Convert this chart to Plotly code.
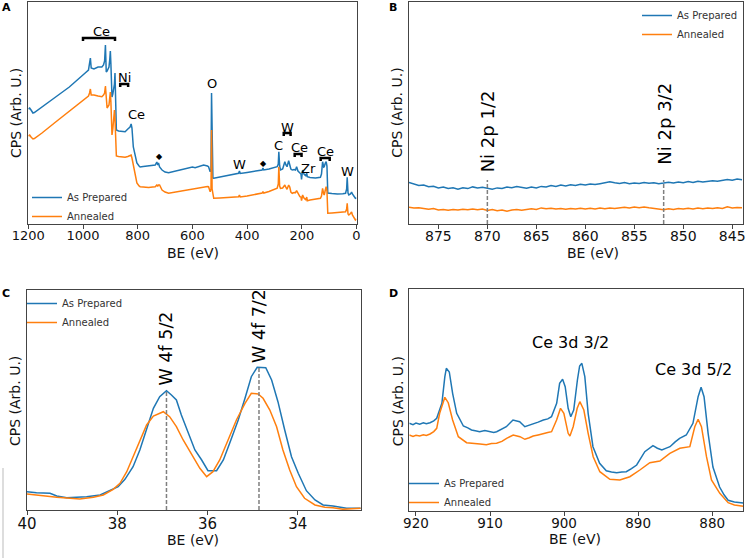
import plotly.graph_objects as go

# ---------------- Panel A: survey ----------------
a_be = [1200, 1195, 1190, 1183, 1178, 1170, 1150, 1100, 1050, 1010, 992, 980, 976, 973, 970, 960, 945, 931,
        925, 921, 918, 915, 912, 905, 902, 900, 898, 894, 891, 888, 885, 883, 881, 878, 870, 860, 846, 836,
        828, 824, 821, 816, 810, 803, 795, 791, 780, 760, 745, 736, 730, 727, 724, 720, 711, 700, 687, 660,
        630, 600, 590, 570, 559, 545, 541, 535, 532, 530, 528, 525, 522, 500, 470, 440, 431, 428, 425, 400,
        370, 350, 345, 342, 339, 320, 300, 290, 286, 284, 281, 278, 270, 262, 258, 254, 248, 244, 240, 235,
        228, 223, 219, 214, 207, 203, 201, 199, 197, 192, 185, 182, 180, 170, 150, 132, 128, 124, 120, 118,
        114, 111, 108, 105, 90, 70, 50, 40, 36, 34, 31, 28, 22, 18, 15, 8, 4, 0]
a_prepared = [115, 116, 114, 111, 111.5, 113, 117, 127, 137, 146, 151, 154, 160, 166, 156, 155, 157, 157,
              159, 163, 179, 152, 153, 157, 165, 173, 160, 127, 130, 135, 140, 151, 130, 94, 93, 92.5, 92.3, 95,
              97, 100, 96, 77, 68, 61, 58, 57, 57.5, 58, 58.5, 59, 62, 59, 61, 57, 54, 52, 51.3, 53,
              55, 57, 56.3, 58, 59, 58, 57.3, 52.3, 55, 131, 60, 46, 45.7, 47, 48.5, 50, 50.7, 53, 50.5, 51.5,
              52.5, 53.5, 54, 56, 54, 55, 56.5, 57.3, 60, 72.3, 58, 54, 55, 62.3, 59, 57.3, 63.3, 60, 55, 54,
              54.5, 54, 57.3, 53, 50.7, 50, 44.7, 49, 54, 50, 48, 51, 47.3, 46.5, 46, 46.7, 50, 62.3, 57, 57.3,
              61, 62.3, 58, 31, 30.5, 30, 30.3, 30.7, 35, 46.7, 31, 29, 30, 32, 30, 27, 25.7, 26]
a_annealed = [88, 89, 87, 85, 85.5, 87, 91, 102, 113, 122, 125.7, 128, 131, 135, 129, 129, 128, 127.3,
              129, 131, 138, 118, 116, 119, 126, 132, 122, 89, 95, 104, 114, 105, 80, 68, 67.5, 67, 66.7, 67.5,
              68, 69, 66, 58, 50, 41, 38, 37.3, 37, 36.5, 37, 37.3, 39, 37.5, 39, 39, 34, 32, 30.7, 32,
              33.5, 35, 35.7, 36.5, 37.3, 37.5, 37.3, 32.3, 35, 94, 35, 26.5, 25.7, 26, 26.8, 27.3, 27.3, 29, 27, 28,
              29.5, 30.5, 31, 32.5, 31, 32.5, 34.5, 35.7, 40, 57.3, 38, 35.7, 36, 39, 36.5, 34.7, 39, 37, 32, 30.7,
              31.5, 31.3, 33.3, 30, 27.3, 27, 23.3, 26, 29, 26, 24, 27, 23.3, 24, 25, 25.7, 28, 35.7, 30, 29,
              34, 37.3, 33, 10.7, 11, 11.5, 12, 12.3, 15, 20.7, 10, 9, 10.5, 12, 9, 5, 4, 5]
a_labels = ["Ce", "Ni", "Ce", "◆", "O", "W", "◆", "C", "W", "Ce", "Zr", "Ce", "W"]
a_label_be = [934, 849, 806, 721, 527, 428, 340, 286, 253, 209, 176, 114, 34]
a_label_h = [193, 147, 110, 68, 141, 60, 61, 79, 97, 77, 56, 73, 53]
a_bracket_lo = [1000, 864, 266, 226, 131]
a_bracket_hi = [883, 835, 241, 201, 98]
a_bracket_h = [186, 140, 91, 70, 66]
a_ticks = [1200, 1000, 800, 600, 400, 200, 0]

# ---------------- Panel B: Ni 2p ----------------
b_be = [878.0, 877.5, 877.0, 876.5, 876.0, 875.5, 875.0, 874.5, 874.0, 873.5, 873.0, 872.5, 872.0, 871.5,
        871.0, 870.5, 870.0, 869.5, 869.0, 868.5, 868.0, 867.5, 867.0, 866.5, 866.0, 865.5, 865.0, 864.5,
        864.0, 863.5, 863.0, 862.5, 862.0, 861.5, 861.0, 860.5, 860.0, 859.5, 859.0, 858.5, 858.0, 857.5,
        857.0, 856.5, 856.0, 855.5, 855.0, 854.5, 854.0, 853.5, 853.0, 852.5, 852.0, 851.5, 851.0, 850.5,
        850.0, 849.5, 849.0, 848.5, 848.0, 847.5, 847.0, 846.5, 846.0, 845.5, 845.0, 844.5, 844.0]
b_prepared = [41.5, 40.2, 38.6, 38.9, 37.2, 37.8, 36.1, 37.0, 35.6, 36.3, 34.9, 36.2, 35.4, 37.1,
              36.0, 36.8, 35.7, 34.8, 36.1, 35.5, 37.0, 36.2, 37.4, 36.3, 35.8, 36.9, 36.1, 37.6,
              37.0, 38.4, 37.6, 38.9, 38.1, 39.2, 38.5, 39.7, 39.0, 40.1, 39.4, 40.3, 41.5, 42.2,
              41.2, 40.6, 41.4, 40.3, 41.1, 40.4, 41.6, 40.7, 41.2, 40.2, 40.9, 41.8, 41.0, 42.1,
              41.3, 42.4, 41.6, 42.8, 41.9, 42.6, 43.3, 42.7, 43.9, 44.6, 43.8, 44.9, 44.2]
b_annealed = [16.8, 15.9, 16.3, 15.2, 14.8, 15.4, 14.1, 14.6, 13.7, 14.4, 13.9, 14.8, 14.2, 15.0,
              14.3, 14.9, 13.6, 14.4, 13.2, 14.0, 12.8, 13.9, 14.6, 13.8, 14.7, 15.3, 14.5, 16.1,
              15.2, 15.8, 14.9, 15.5, 14.8, 15.6, 15.0, 15.7, 14.9, 15.8, 15.1, 15.9, 15.3, 16.0,
              15.4, 16.2, 16.8, 16.1, 16.9, 16.3, 17.0, 16.2, 15.6, 14.9, 14.3, 15.2, 14.6, 15.5,
              15.0, 15.8, 15.1, 15.9, 15.3, 16.0, 15.4, 16.2, 15.5, 17.2, 16.0, 16.6, 16.3]
b_peak_be = [870, 852]
b_peak_h = [44, 44]
b_labels = ["Ni 2p 1/2", "Ni 2p 3/2"]
b_label_h = [93, 100]
b_ticks = [875, 870, 865, 860, 855, 850, 845]

# ---------------- Panel C: W 4f ----------------
c_be_prep = [40.0, 39.79, 39.49, 39.34, 39.12, 38.83, 38.68, 38.38, 38.16, 37.98, 37.83, 37.65, 37.50, 37.35,
             37.20, 37.06, 36.91, 36.80, 36.69, 36.58, 36.43, 36.28, 36.13, 35.99, 35.80, 35.65, 35.51, 35.32,
             35.17, 35.03, 34.90, 34.71, 34.58, 34.44, 34.29, 34.14, 33.99, 33.81, 33.62, 33.44, 33.22, 32.92, 32.61]
c_prepared = [18.3, 17.3, 16.7, 14, 12.3, 12.7, 13.3, 15, 19.3, 23.3, 30.7, 43.3, 60, 80,
              101.7, 113.3, 119.3, 115, 110, 95, 78.3, 60, 50, 39.3, 39.3, 50, 66.7, 90,
              111.7, 133.3, 142.7, 142.3, 130, 108.3, 80, 53.3, 36.7, 19.3, 10, 5, 4, 1.7, 1.7]
c_be_ann = [40.0, 39.64, 39.34, 39.12, 38.83, 38.53, 38.31, 38.09, 37.94, 37.79, 37.65, 37.50, 37.35, 37.20,
            36.98, 36.84, 36.69, 36.54, 36.35, 36.17, 36.02, 35.88, 35.73, 35.54, 35.36, 35.17, 35.03, 34.88,
            34.77, 34.62, 34.47, 34.33, 34.18, 34.03, 33.85, 33.62, 33.40, 33.22, 33.0, 32.61]
c_annealed = [16, 14, 12.7, 12, 11, 12.7, 15, 20.7, 26.7, 38.3, 53.3, 68.3, 85, 94,
              98.3, 93.3, 83.3, 70, 55, 41.7, 33.3, 38.3, 50, 70, 90, 106.7, 116.7, 116,
              111.7, 100, 83.3, 60, 40, 23.3, 11.7, 5, 2.7, 2.3, 0.7, 1.7]
c_peak_be = [36.91, 34.86]
c_peak_h = [119.3, 142.7]
c_labels = ["W 4f 5/2", "W 4f 7/2"]
c_label_h = [162, 184]
c_ticks = [40, 38, 36, 34]

# ---------------- Panel D: Ce 3d ----------------
d_be_prep = [920.9, 920.4, 920.0, 919.5, 919.0, 918.6, 918.1, 917.6, 917.2, 916.5, 916.1, 915.9, 915.5, 915.05,
             914.5, 913.6, 913.0, 912.5, 912.0, 911.4, 910.7, 910.0, 909.5, 909.1, 908.5, 907.8, 906.9, 906.0,
             905.3, 904.7, 904.2, 903.5, 902.8, 902.2, 901.7, 901.0, 900.6, 900.2, 899.85, 899.45, 899.1, 898.7,
             898.2, 897.9, 897.6, 897.2, 896.75, 896.1, 895.2, 894.3, 893.6, 892.9, 892.2, 891.6, 890.9, 890.2,
             889.1, 888.0, 887.4, 886.8, 886.2, 885.7, 885.0, 884.4, 883.5, 882.6, 881.9, 881.5, 881.1, 880.55,
             879.9, 879.0, 878.4, 877.85, 877.0, 876.4, 875.8]
d_prepared = [87.7, 86.4, 87.9, 86.8, 88.2, 87.3, 88.3, 90.1, 92.7, 107.7, 134.3, 142.7, 139, 117.7,
              97.7, 85, 83.1, 81, 80.2, 79.3, 80.4, 79, 78.6, 79.3, 81.5, 84.3, 91, 89.3,
              84.3, 85.6, 87, 88.9, 91, 92.1, 94.3, 107.7, 127.7, 131.7, 124.3, 102.7, 94.3, 101,
              131, 145, 147.7, 134.3, 97.7, 64.3, 47.7, 40.3, 39.1, 38.3, 38.9, 39.3, 42.4, 46,
              59.3, 65.3, 62.8, 61, 62.9, 64.3, 69.1, 72.7, 76, 87.7, 114.3, 123.7, 114.3, 77.7,
              44, 24, 16.2, 10.7, 9.1, 8.6, 8]
d_be_ann = [920.9, 920.4, 920.0, 919.5, 919.0, 918.6, 918.1, 917.6, 917.2, 916.8, 916.1, 915.64, 915.05, 914.28,
            913.16, 912.2, 911.36, 910.5, 909.8, 909.11, 908.4, 907.76, 906.87, 905.96, 905.29, 904.7, 904.17, 903.5,
            902.82, 902.2, 901.69, 901.01, 900.48, 900.03, 899.45, 899.21, 898.77, 898.23, 897.87, 897.33, 896.75,
            896.07, 895.17, 893.82, 892.47, 891.12, 889.77, 888.42, 887.07, 885.72, 884.37, 883.02, 882.35, 881.9,
            881.45, 880.77, 880.1, 878.97, 877.85, 877.0, 875.8]
d_annealed = [76, 74.6, 75.8, 75, 76.3, 75.6, 77, 79.4, 82.7, 97.7, 113.7, 108.3, 91, 74.3,
              68.3, 67.9, 67, 66.3, 67.4, 67.7, 69.6, 72.7, 76, 74.3, 71.7, 73.2, 75, 76.1,
              77.7, 78.4, 79.3, 91, 102.7, 97.7, 77.7, 75, 84.3, 102.7, 109.3, 101, 77.7,
              54.3, 39.3, 31.7, 31, 34.3, 41, 48.3, 50, 57.7, 62.7, 64.3, 84.3, 91.7,
              84.3, 54.3, 31, 17.7, 8.3, 6.1, 4.7]
d_labels = ["Ce 3d 3/2", "Ce 3d 5/2"]
d_label_be = [899.1, 882.5]
d_label_h = [168.7, 141]
d_ticks = [920, 910, 900, 890, 880]

# ---------------- styling ----------------
W, H = 747, 558
BLUE, ORANGE, GRAY = "#1f77b4", "#ff7f0e", "#7f7f7f"
FONT = "DejaVu Sans"
FRAME = "#444444"


def px_x(p):
    return p / W


def px_y(p):
    return 1 - p / H


panels = {
    "A": dict(x=(28.3, 356.5), y=(2, 224), xr=[1200, 0], yr=[0, 222], ticks=a_ticks, tfs=13),
    "B": dict(x=(409, 743), y=(2, 224), xr=[878.0, 843.9], yr=[0, 222], ticks=b_ticks, tfs=14),
    "C": dict(x=(27, 361), y=(290, 510), xr=[40, 32.6], yr=[0, 220], ticks=c_ticks, tfs=15),
    "D": dict(x=(409.3, 743.3), y=(289, 511), xr=[920.9, 875.8], yr=[0, 222], ticks=d_ticks, tfs=13.5),
}

fig = go.Figure()
layout = dict(template="none", width=W, height=H, margin=dict(l=0, r=0, t=0, b=0, pad=0, autoexpand=False),
              paper_bgcolor="white", plot_bgcolor="white",
              font=dict(family=FONT, color="#111111"))

for i, (name, p) in enumerate(panels.items()):
    sfx = "" if i == 0 else str(i + 1)
    layout["xaxis" + sfx] = dict(
        domain=[px_x(p["x"][0]), px_x(p["x"][1])], range=p["xr"], anchor="y" + sfx, automargin=False,
        tickvals=p["ticks"], ticks="outside", ticklen=3.5, tickwidth=1, tickcolor=FRAME,
        ticklabelstandoff=-4,
        showline=True, linecolor=FRAME, linewidth=1, mirror=True, showgrid=False, zeroline=False,
        tickfont=dict(size=p["tfs"], family=FONT, color="#111111"))
    layout["yaxis" + sfx] = dict(
        domain=[px_y(p["y"][1]), px_y(p["y"][0])], range=p["yr"], anchor="x" + sfx, automargin=False,
        showticklabels=False, ticks="", showline=True, linecolor=FRAME, linewidth=1, mirror=True,
        showgrid=False, zeroline=False)


def add_pair(xs1, ys1, xs2, ys2, ax, legend):
    fig.add_trace(go.Scatter(x=xs1, y=ys1, mode="lines", name="As Prepared",
                             line=dict(color=BLUE, width=1.5), xaxis="x" + ax, yaxis="y" + ax,
                             legend=legend))
    fig.add_trace(go.Scatter(x=xs2, y=ys2, mode="lines", name="Annealed",
                             line=dict(color=ORANGE, width=1.5), xaxis="x" + ax, yaxis="y" + ax,
                             legend=legend))


add_pair(a_be, a_prepared, a_be, a_annealed, "", "legend")
add_pair(b_be, b_prepared, b_be, b_annealed, "2", "legend2")
add_pair(c_be_prep, c_prepared, c_be_ann, c_annealed, "3", "legend3")
add_pair(d_be_prep, d_prepared, d_be_ann, d_annealed, "4", "legend4")

# brackets in panel A
bx, by = [], []
for lo, hi, h in zip(a_bracket_lo, a_bracket_hi, a_bracket_h):
    bx += [lo, lo, hi, hi, None]
    by += [h - 3, h, h, h - 3, None]
fig.add_trace(go.Scatter(x=bx, y=by, mode="lines", line=dict(color="black", width=2.5),
                         showlegend=False, hoverinfo="skip", xaxis="x", yaxis="y"))

# dashed peak markers in B and C
for xs, hs, ax in [(b_peak_be, b_peak_h, "2"), (c_peak_be, c_peak_h, "3")]:
    dx, dy = [], []
    for e, h in zip(xs, hs):
        dx += [e, e, None]
        dy += [0, h, None]
    fig.add_trace(go.Scatter(x=dx, y=dy, mode="lines", line=dict(color=GRAY, width=1.5, dash="4px,2px"),
                             showlegend=False, hoverinfo="skip", xaxis="x" + ax, yaxis="y" + ax))

ann = []
for t, e, h in zip(a_labels, a_label_be, a_label_h):
    ann.append(dict(x=e, y=h, xref="x", yref="y", text=t, showarrow=False,
                    font=dict(size=8 if t == "◆" else 13, family=FONT, color="black"),
                    xanchor="center", yanchor="middle"))
for t, e, h in zip(b_labels, b_peak_be, b_label_h):
    ann.append(dict(x=e, y=h, xref="x2", yref="y2", text=t, showarrow=False, textangle=-90,
                    font=dict(size=18, family=FONT, color="black"), xanchor="center", yanchor="middle"))
for t, e, h in zip(c_labels, c_peak_be, c_label_h):
    ann.append(dict(x=e, y=h, xref="x3", yref="y3", text=t, showarrow=False, textangle=-90,
                    font=dict(size=17.5, family=FONT, color="black"), xanchor="center", yanchor="middle"))
for t, e, h in zip(d_labels, d_label_be, d_label_h):
    ann.append(dict(x=e, y=h, xref="x4", yref="y4", text=t, showarrow=False,
                    font=dict(size=16, family=FONT, color="black"), xanchor="center", yanchor="middle"))

# axis titles and panel letters (paper positions in px)
for cx, cy in [(16, 113), (396.7, 113), (15, 401), (398.3, 401)]:
    ann.append(dict(x=px_x(cx), y=px_y(cy), xref="paper", yref="paper", text="CPS (Arb. U.)",
                    showarrow=False, textangle=-90, font=dict(size=14, family=FONT, color="#111111"),
                    xanchor="center", yanchor="middle"))
for cx, cy in [(192.5, 253), (592.5, 253), (193.3, 540), (575, 539)]:
    ann.append(dict(x=px_x(cx), y=px_y(cy), xref="paper", yref="paper", text="BE (eV)",
                    showarrow=False, font=dict(size=14, family=FONT, color="#111111"),
                    xanchor="center", yanchor="middle"))
for letter, cx, cy in [("A", 6.5, 7.5), ("B", 393.3, 7.5), ("C", 6, 293.5), ("D", 393.3, 293.5)]:
    ann.append(dict(x=px_x(cx), y=px_y(cy), xref="paper", yref="paper", text="<b>%s</b>" % letter,
                    showarrow=False, font=dict(size=11, family=FONT, color="black"),
                    xanchor="center", yanchor="middle"))
layout["annotations"] = ann

leg_common = dict(bgcolor="rgba(0,0,0,0)", borderwidth=0, tracegroupgap=0,
                  font=dict(size=10, family=FONT, color="#333333"), xanchor="left", yanchor="top")
layout["legend"] = dict(x=px_x(27), y=px_y(183), **leg_common)
layout["legend2"] = dict(x=px_x(637), y=px_y(1), **leg_common)
layout["legend3"] = dict(x=px_x(22), y=px_y(289), **leg_common)
layout["legend4"] = dict(x=px_x(404), y=px_y(469), **leg_common)

layout["shapes"] = [dict(type="line", xref="paper", yref="paper", x0=px_x(3), x1=px_x(3),
                         y0=0, y1=px_y(468), line=dict(color="#bbbbbb", width=1))]

fig.update_layout(**layout)
fig.write_html("out.html", config={"displayModeBar": False},
               post_script="document.body.style.margin='0';document.body.style.overflow='hidden';")
